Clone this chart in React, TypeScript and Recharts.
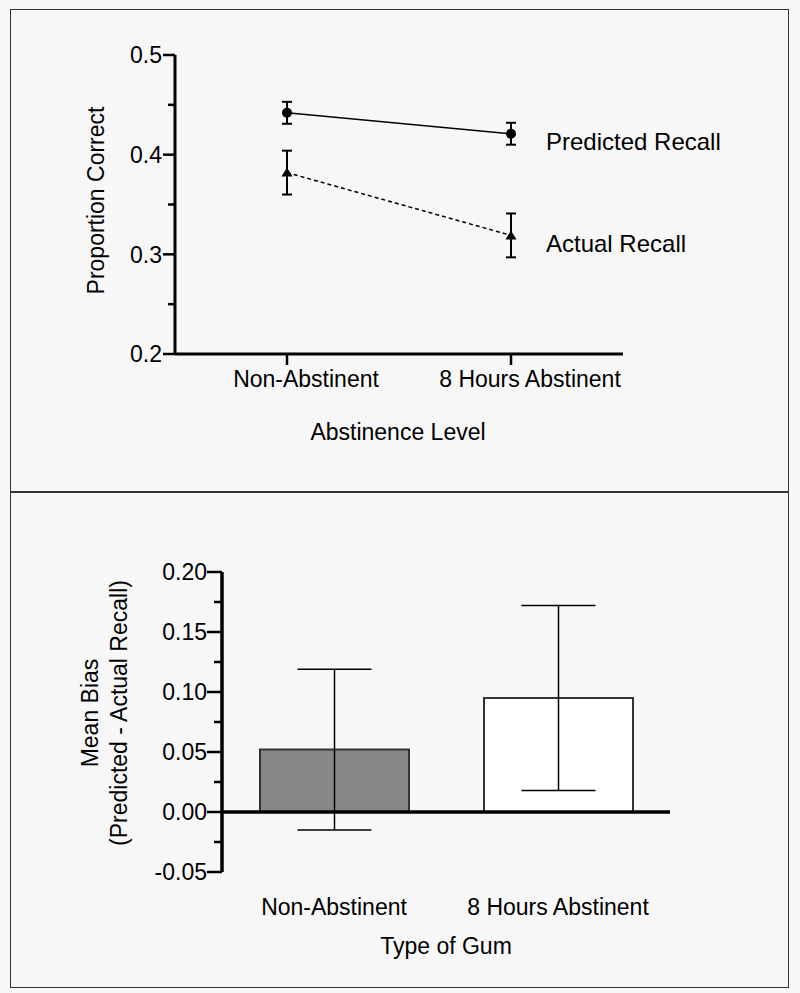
import React from 'react';
import {
  LineChart,
  Line,
  XAxis,
  YAxis,
  ErrorBar,
  LabelList,
  BarChart,
  Bar,
  Cell,
  ReferenceLine,
} from 'recharts';

// ---- Top panel data ----
const abstinenceLevels = ['Non-Abstinent', '8 Hours Abstinent'];
const predictedRecall = [0.442, 0.421];
const predictedRecallErr = [0.011, 0.011];
const actualRecall = [0.382, 0.319];
const actualRecallErr = [0.022, 0.022];
const seriesNames = ['Predicted Recall', 'Actual Recall'];
const recallTicks = [0.2, 0.25, 0.3, 0.35, 0.4, 0.45, 0.5];

// ---- Bottom panel data ----
const gumTypes = ['Non-Abstinent', '8 Hours Abstinent'];
const meanBias = [0.052, 0.095];
const meanBiasErr = [0.067, 0.077];
const biasFills = ['#888888', '#ffffff'];
const biasTicks = [-0.05, -0.025, 0, 0.025, 0.05, 0.075, 0.1, 0.125, 0.15, 0.175, 0.2];

const FONT = '"Liberation Sans", Arial, Helvetica, sans-serif';

const lineData = abstinenceLevels.map((name, i) => ({
  name,
  predicted: predictedRecall[i],
  predictedErr: predictedRecallErr[i],
  actual: actualRecall[i],
  actualErr: actualRecallErr[i],
}));

const barData = gumTypes.map((name, i) => ({
  name,
  bias: meanBias[i],
  err: meanBiasErr[i],
}));

const isMultiple = (v: number, step: number) => Math.abs(v / step - Math.round(v / step)) < 1e-6;

const TopYTick = (props: any) => {
  const { x, y, payload } = props;
  const v = payload.value as number;
  const major = isMultiple(v, 0.1);
  return (
    <g>
      <line x1={x} x2={x - (major ? 12 : 7)} y1={y} y2={y} stroke="#000" strokeWidth={2.5} />
      {major && (
        <text x={x - 13} y={y} dy="0.36em" textAnchor="end" fontSize={23} fontFamily={FONT} fill="#000">
          {v.toFixed(1)}
        </text>
      )}
    </g>
  );
};

const TopXTick = (props: any) => {
  const { x, y, payload } = props;
  return (
    <g>
      <line x1={x} x2={x} y1={y} y2={y + 11} stroke="#000" strokeWidth={2.5} />
      <text x={x + 19} y={y + 33} textAnchor="middle" fontSize={23} fontFamily={FONT} fill="#000">
        {payload.value}
      </text>
    </g>
  );
};

const BottomYTick = (props: any) => {
  const { x, y, payload } = props;
  const v = payload.value as number;
  const major = isMultiple(v, 0.05);
  return (
    <g>
      <line x1={x} x2={x - (major ? 15 : 8)} y1={y} y2={y} stroke="#000" strokeWidth={2.5} />
      {major && (
        <text x={x - 15} y={y} dy="0.36em" textAnchor="end" fontSize={23} fontFamily={FONT} fill="#000">
          {v.toFixed(2)}
        </text>
      )}
    </g>
  );
};

const BottomXTick = (props: any) => {
  const { x, y, payload } = props;
  return (
    <text x={x} y={y + 43} textAnchor="middle" fontSize={23} fontFamily={FONT} fill="#000">
      {payload.value}
    </text>
  );
};

const TriangleDot = (props: any) => {
  const { cx, cy } = props;
  if (cx == null || cy == null) return null;
  return <path d={`M${cx},${cy - 5} L${cx + 5.5},${cy + 4} L${cx - 5.5},${cy + 4} Z`} fill="#000" />;
};

const endLabel = (text: string) => (p: any) => {
  if (p.index !== lineData.length - 1) return null;
  return (
    <text x={p.x + 35} y={p.y + 8} dy="0.36em" fontSize={24} fontFamily={FONT} fill="#000">
      {text}
    </text>
  );
};

export default function App() {
  return (
    <div
      style={{
        position: 'absolute',
        left: 0,
        top: 0,
        width: 800,
        height: 993,
        background: '#f7f7f7',
        overflow: 'hidden',
      }}
    >
      <div
        style={{
          position: 'absolute',
          left: 10,
          top: 9,
          width: 779,
          height: 483,
          border: '1.5px solid #333',
          boxSizing: 'border-box',
        }}
      />
      <div
        style={{
          position: 'absolute',
          left: 10,
          top: 492,
          width: 779,
          height: 496,
          border: '1.5px solid #333',
          boxSizing: 'border-box',
        }}
      />

      <div style={{ position: 'absolute', left: 0, top: 0 }}>
        <LineChart
          width={800}
          height={493}
          data={lineData}
          margin={{ top: 55, right: 177, bottom: 79, left: 115 }}
        >
          <XAxis
            dataKey="name"
            type="category"
            height={60}
            padding={{ left: 112, right: 112 }}
            axisLine={{ stroke: '#000', strokeWidth: 3 }}
            tickLine={false}
            tickSize={0}
            tickMargin={0}
            tick={<TopXTick />}
            interval={0}
            label={{
              content: (p: any) => {
                const vb = p.viewBox || {};
                return (
                  <text
                    x={vb.x + vb.width / 2 - 1}
                    y={440}
                    textAnchor="middle"
                    fontSize={23}
                    fontFamily={FONT}
                    fill="#000"
                  >
                    Abstinence Level
                  </text>
                );
              },
            }}
          />
          <YAxis
            width={60}
            type="number"
            domain={[0.2, 0.5]}
            ticks={recallTicks}
            interval={0}
            axisLine={{ stroke: '#000', strokeWidth: 3 }}
            tickLine={false}
            tickSize={0}
            tickMargin={0}
            tick={<TopYTick />}
            label={{
              content: (p: any) => {
                const vb = p.viewBox || {};
                const cy = vb.y + vb.height / 2 - 4;
                return (
                  <text
                    transform={`translate(104, ${cy}) rotate(-90)`}
                    textAnchor="middle"
                    fontSize={23}
                    fontFamily={FONT}
                    fill="#000"
                  >
                    Proportion Correct
                  </text>
                );
              },
            }}
          />
          <Line
            dataKey="predicted"
            stroke="#000"
            strokeWidth={1.5}
            dot={{ r: 5, fill: '#000', stroke: '#000', strokeWidth: 0 }}
            activeDot={false}
            isAnimationActive={false}
          >
            <ErrorBar dataKey="predictedErr" width={5} stroke="#000" strokeWidth={2} isAnimationActive={false} />
            <LabelList dataKey="predicted" content={endLabel(seriesNames[0])} />
          </Line>
          <Line
            dataKey="actual"
            stroke="#000"
            strokeWidth={1.5}
            strokeDasharray="4 3"
            dot={<TriangleDot />}
            activeDot={false}
            isAnimationActive={false}
          >
            <ErrorBar dataKey="actualErr" width={5} stroke="#000" strokeWidth={2} isAnimationActive={false} />
            <LabelList dataKey="actual" content={endLabel(seriesNames[1])} />
          </Line>
        </LineChart>
      </div>

      <div style={{ position: 'absolute', left: 0, top: 493 }}>
        <BarChart
          width={800}
          height={500}
          data={barData}
          margin={{ top: 79, right: 130, bottom: 61, left: 162 }}
        >
          <XAxis
            dataKey="name"
            type="category"
            height={60}
            axisLine={false}
            tickLine={false}
            tickSize={0}
            tickMargin={0}
            tick={<BottomXTick />}
            interval={0}
            label={{
              content: (p: any) => {
                const vb = p.viewBox || {};
                return (
                  <text
                    x={vb.x + vb.width / 2}
                    y={461}
                    textAnchor="middle"
                    fontSize={23}
                    fontFamily={FONT}
                    fill="#000"
                  >
                    Type of Gum
                  </text>
                );
              },
            }}
          />
          <YAxis
            width={60}
            type="number"
            domain={[-0.05, 0.2]}
            ticks={biasTicks}
            interval={0}
            axisLine={{ stroke: '#000', strokeWidth: 3.5 }}
            tickLine={false}
            tickSize={0}
            tickMargin={0}
            tick={<BottomYTick />}
            label={{
              content: (p: any) => {
                const vb = p.viewBox || {};
                const cy = vb.y + vb.height / 2 - 9;
                return (
                  <g>
                    <text
                      transform={`translate(98, ${cy}) rotate(-90)`}
                      textAnchor="middle"
                      fontSize={23}
                      fontFamily={FONT}
                      fill="#000"
                    >
                      Mean Bias
                    </text>
                    <text
                      transform={`translate(127, ${cy}) rotate(-90)`}
                      textAnchor="middle"
                      fontSize={23}
                      fontFamily={FONT}
                      fill="#000"
                    >
                      (Predicted - Actual Recall)
                    </text>
                  </g>
                );
              },
            }}
          />
          <Bar dataKey="bias" barSize={149} stroke="#333" strokeWidth={2} isAnimationActive={false}>
            {barData.map((d, i) => (
              <Cell key={d.name} fill={biasFills[i]} />
            ))}
            <ErrorBar dataKey="err" width={37} stroke="#000" strokeWidth={1.5} isAnimationActive={false} />
          </Bar>
          <ReferenceLine y={0} stroke="#000" strokeWidth={3.5} />
        </BarChart>
      </div>
    </div>
  );
}
